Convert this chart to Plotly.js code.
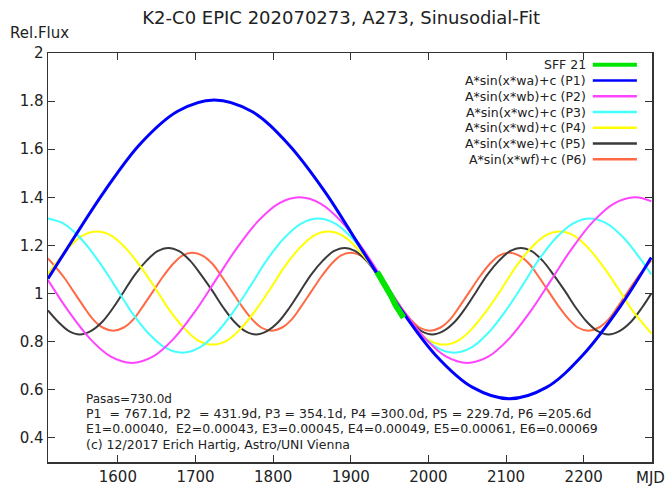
<!DOCTYPE html>
<html><head><meta charset="utf-8">
<script src="https://cdn.plot.ly/plotly-3.0.1.min.js"></script>
<style>html,body{margin:0;padding:0;background:#fff}#chart{width:665px;height:486px}</style>
</head><body><div id="chart"></div>
<script>
// ---- data ----
const sffMJD  = [1934, 1940, 1946, 1952, 1958, 1964, 1968];
const sffFlux = [1.09, 1.06, 1.02, 0.99, 0.95, 0.92, 0.90];

const p1MJD  = [1510, 1534, 1582, 1629, 1677, 1724, 1772, 1819, 1867, 1914, 1962, 2009, 2057, 2104, 2152, 2199, 2247, 2287];
const p1Flux = [1.062, 1.184, 1.422, 1.623, 1.758, 1.805, 1.758, 1.623, 1.422, 1.184, 0.946, 0.745, 0.610, 0.563, 0.610, 0.745, 0.946, 1.150];

const p2MJD  = [1510, 1537, 1564, 1591, 1618, 1645, 1672, 1699, 1726, 1753, 1780, 1807, 1834, 1861, 1888, 1915, 1942, 1969, 1996, 2023, 2050, 2077, 2104, 2131, 2158, 2185, 2212, 2239, 2266, 2287];
const p2Flux = [1.056, 0.924, 0.813, 0.738, 0.712, 0.738, 0.813, 0.924, 1.056, 1.188, 1.299, 1.374, 1.400, 1.374, 1.299, 1.188, 1.056, 0.924, 0.813, 0.738, 0.712, 0.738, 0.813, 0.924, 1.056, 1.188, 1.299, 1.374, 1.400, 1.384];

const p3MJD  = [1510, 1530, 1552, 1574, 1596, 1617, 1639, 1661, 1683, 1705, 1727, 1749, 1771, 1792, 1814, 1836, 1858, 1880, 1902, 1924, 1946, 1967, 1989, 2011, 2033, 2055, 2077, 2099, 2121, 2142, 2164, 2186, 2208, 2230, 2252, 2274, 2287];
const p3Flux = [1.312, 1.291, 1.230, 1.140, 1.033, 0.926, 0.836, 0.775, 0.754, 0.775, 0.836, 0.926, 1.033, 1.140, 1.230, 1.291, 1.312, 1.291, 1.230, 1.140, 1.033, 0.926, 0.836, 0.775, 0.754, 0.775, 0.836, 0.926, 1.033, 1.140, 1.230, 1.291, 1.312, 1.291, 1.230, 1.140, 1.080];

const p4MJD  = [1510, 1536, 1554, 1573, 1592, 1610, 1629, 1648, 1666, 1685, 1703, 1722, 1741, 1759, 1778, 1797, 1815, 1834, 1852, 1871, 1890, 1908, 1927, 1946, 1964, 1983, 2001, 2020, 2039, 2057, 2076, 2095, 2113, 2132, 2150, 2169, 2188, 2206, 2225, 2244, 2262, 2287];
const p4Flux = [1.080, 1.189, 1.240, 1.258, 1.240, 1.189, 1.113, 1.023, 0.933, 0.857, 0.806, 0.788, 0.806, 0.857, 0.933, 1.023, 1.113, 1.189, 1.240, 1.258, 1.240, 1.189, 1.113, 1.023, 0.933, 0.857, 0.806, 0.788, 0.806, 0.857, 0.933, 1.023, 1.113, 1.189, 1.240, 1.258, 1.240, 1.189, 1.113, 1.023, 0.933, 0.835];

const p5MJD  = [1510, 1523, 1537, 1551, 1565, 1580, 1594, 1608, 1622, 1637, 1651, 1665, 1679, 1693, 1707, 1722, 1736, 1750, 1764, 1778, 1792, 1807, 1821, 1835, 1849, 1864, 1878, 1892, 1906, 1920, 1934, 1949, 1963, 1977, 1991, 2005, 2019, 2034, 2048, 2062, 2076, 2091, 2105, 2119, 2133, 2147, 2161, 2176, 2190, 2204, 2218, 2232, 2246, 2261, 2275, 2287];
const p5Flux = [0.930, 0.883, 0.844, 0.830, 0.844, 0.883, 0.941, 1.010, 1.079, 1.137, 1.176, 1.190, 1.176, 1.137, 1.079, 1.010, 0.941, 0.883, 0.844, 0.830, 0.844, 0.883, 0.941, 1.010, 1.079, 1.137, 1.176, 1.190, 1.176, 1.137, 1.079, 1.010, 0.941, 0.883, 0.844, 0.830, 0.844, 0.883, 0.941, 1.010, 1.079, 1.137, 1.176, 1.190, 1.176, 1.137, 1.079, 1.010, 0.941, 0.883, 0.844, 0.830, 0.844, 0.883, 0.941, 1.000];

const p6MJD  = [1510, 1530, 1543, 1556, 1568, 1581, 1594, 1607, 1620, 1632, 1645, 1658, 1671, 1683, 1696, 1709, 1722, 1734, 1747, 1760, 1773, 1785, 1798, 1811, 1824, 1836, 1849, 1862, 1875, 1887, 1900, 1913, 1926, 1938, 1951, 1964, 1977, 1989, 2002, 2015, 2028, 2040, 2053, 2066, 2079, 2091, 2104, 2117, 2130, 2142, 2155, 2168, 2181, 2193, 2206, 2219, 2232, 2244, 2257, 2270, 2287];
const p6Flux = [1.146, 1.070, 1.008, 0.946, 0.893, 0.858, 0.846, 0.858, 0.893, 0.946, 1.008, 1.070, 1.123, 1.158, 1.170, 1.158, 1.123, 1.070, 1.008, 0.946, 0.893, 0.858, 0.846, 0.858, 0.893, 0.946, 1.008, 1.070, 1.123, 1.158, 1.170, 1.158, 1.123, 1.070, 1.008, 0.946, 0.893, 0.858, 0.846, 0.858, 0.893, 0.946, 1.008, 1.070, 1.123, 1.158, 1.170, 1.158, 1.123, 1.070, 1.008, 0.946, 0.893, 0.858, 0.846, 0.858, 0.893, 0.946, 1.008, 1.070, 1.138];

const seriesNames = ["SFF 21", "A*sin(x*wa)+c (P1)", "A*sin(x*wb)+c (P2)", "A*sin(x*wc)+c (P3)",
                     "A*sin(x*wd)+c (P4)", "A*sin(x*we)+c (P5)", "A*sin(x*wf)+c (P6)"];
const xTicks = [1600, 1700, 1800, 1900, 2000, 2100, 2200];
const yTicks = [0.4, 0.6, 0.8, 1.0, 1.2, 1.4, 1.6, 1.8, 2.0];
const infoLines = [
  "Pasas=730.0d",
  "P1&nbsp; = 767.1d, P2&nbsp; = 431.9d, P3 = 354.1d, P4 =300.0d, P5 = 229.7d, P6 =205.6d",
  "E1=0.00040,&nbsp; E2=0.00043, E3=0.00045, E4=0.00049, E5=0.00061, E6=0.00069",
  "(c) 12/2017 Erich Hartig, Astro/UNI Vienna"
];

// ---- styling ----
const colors = ["#00e600", "#0000ff", "#ff44ff", "#44ffff", "#ffff00", "#3a3a3a", "#ff6a45"];
const widths = [6, 3, 2, 2, 2, 2, 2];
const xs = [sffMJD, p1MJD, p2MJD, p3MJD, p4MJD, p5MJD, p6MJD];
const ys = [sffFlux, p1Flux, p2Flux, p3Flux, p4Flux, p5Flux, p6Flux];
const order = [6, 5, 4, 3, 2, 1, 0];

const traces = order.map(i => ({
  type: "scatter", mode: "lines", x: xs[i], y: ys[i], name: seriesNames[i],
  line: {color: colors[i], width: widths[i], shape: i === 0 ? "linear" : "spline", smoothing: 1},
  showlegend: false, hoverinfo: "skip"
}));

const font = "DejaVu Sans, sans-serif";
const annotations = [];
const shapes = [];
const legTop = 0.971, legStep = 0.0385;
seriesNames.forEach((n, i) => {
  const yy = legTop - i * legStep;
  annotations.push({xref: "paper", yref: "paper", x: 0.894, y: yy, xanchor: "right", yanchor: "middle",
    text: n, showarrow: false, font: {family: font, size: 12.5, color: "#222"}});
  shapes.push({type: "line", xref: "paper", yref: "paper", x0: 0.902, x1: 0.975, y0: yy, y1: yy,
    line: {color: colors[i], width: i === 0 ? 4 : 2.5}});
});
const infoY = [0.154, 0.1174, 0.0807, 0.044];
const infoSize = [12, 12.5, 12.5, 12.5];
infoLines.forEach((t, i) => annotations.push({xref: "paper", yref: "paper", x: 0.061, y: infoY[i],
  xanchor: "left", yanchor: "middle", text: t, showarrow: false, borderpad: 0,
  font: {family: font, size: infoSize[i], color: "#222"}}));
annotations.push({xref: "paper", yref: "paper", x: -0.066, y: 1.049, xanchor: "left", yanchor: "middle",
  text: "Rel.Flux", showarrow: false, font: {family: font, size: 15, color: "#222"}});
annotations.push({xref: "paper", yref: "paper", x: 0.997, y: -0.04, xanchor: "center", yanchor: "middle",
  text: "MJD", showarrow: false, font: {family: font, size: 15, color: "#222"}});

const layout = {
  width: 665, height: 486,
  margin: {l: 48, r: 13, t: 53, b: 24},
  paper_bgcolor: "#fff", plot_bgcolor: "#fff",
  title: {text: "K2-C0 EPIC 202070273, A273, Sinusodial-Fit", x: 0.513, xanchor: "center",
          y: 0.963, yanchor: "middle", font: {family: font, size: 18, color: "#222"}},
  xaxis: {range: [1510, 2288], tickvals: xTicks, ticks: "inside", ticklen: 7, tickcolor: "#333",
          showline: true, linecolor: "#333", linewidth: 1.5, mirror: "ticks", showgrid: false, zeroline: false,
          tickfont: {family: font, size: 15, color: "#222"}, fixedrange: true},
  yaxis: {range: [0.3, 2.0], tickvals: yTicks, ticktext: yTicks.map(v => String(+v.toFixed(1))),
          ticks: "inside", ticklen: 7, tickcolor: "#333",
          showline: true, linecolor: "#333", linewidth: 1.5, mirror: "ticks", showgrid: false, zeroline: false,
          tickfont: {family: font, size: 15, color: "#222"}, fixedrange: true},
  annotations: annotations, shapes: shapes, showlegend: false
};
Plotly.newPlot("chart", traces, layout, {staticPlot: true});
</script></body></html>
